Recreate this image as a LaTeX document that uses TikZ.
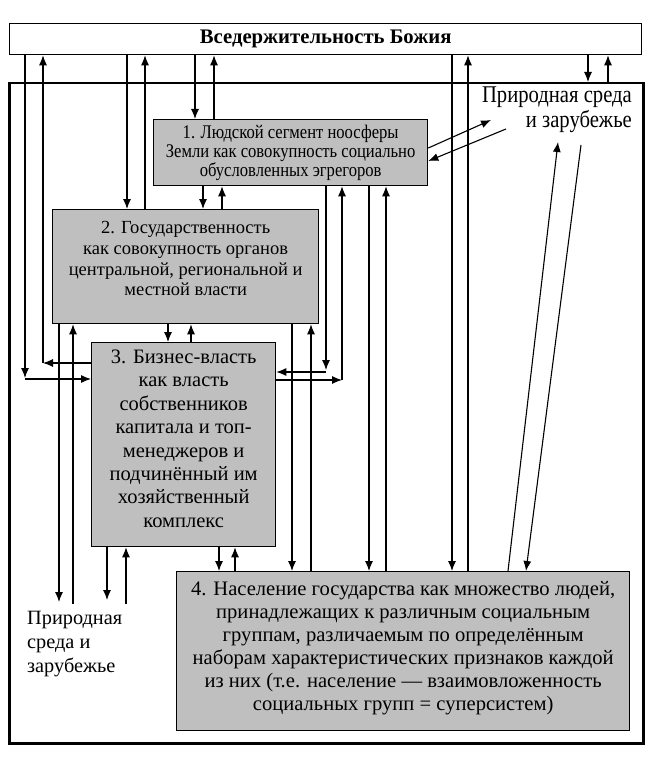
\documentclass[tikz,border=0pt]{standalone}
\usepackage{fontspec}
\setmainfont{Liberation Serif}
\newfontfamily\narrowfont[FakeStretch=0.86]{Liberation Serif}
\usetikzlibrary{arrows.meta,calc}

\begin{document}
\begin{tikzpicture}[x=1pt,y=-1pt,
    box/.style={draw,line width=1.3pt,fill=gray!50,inner sep=0pt,anchor=north west},
    txt/.style={align=center,inner sep=0pt},
    arr/.style={-{Latex[length=10pt,width=8pt]},line width=1.1pt}]
    \useasboundingbox (0,0) rectangle (648,757);
    \fill[white] (0,0) rectangle (648,757);
    \node[draw,line width=1.3pt,inner sep=0pt,anchor=north west,minimum width=632pt,minimum height=31pt] (top) at (9,23) {};
    \node[txt,font=\bfseries\fontsize{20.7}{22}\selectfont] at (top.center) {Вседержительность Божия};
    \node[draw,line width=2.5pt,inner sep=0pt,anchor=north west,minimum width=634pt,minimum height=660pt] (world) at (8,82) {};
    \node[box,minimum width=274pt,minimum height=66pt] (b1) at (153,119) {};
    \node[txt,font=\narrowfont\fontsize{19.3}{19}\selectfont] at (b1.center) {1. Людской сегмент ноосферы\\Земли как совокупность социально\\обусловленных эгрегоров};
    \node[box,minimum width=266pt,minimum height=114pt] (b2) at (52,209) {};
    \node[txt,font=\fontsize{18.5}{20.7}\selectfont] at ($(b2.center)+(0,-8)$) {2. Государственность\\как совокупность органов\\центральной, региональной и\\местной власти};
    \node[box,minimum width=184pt,minimum height=204pt] (b3) at (91,342) {};
    \node[txt,font=\fontsize{20.5}{23.4}\selectfont] at ($(b3.center)+(0,-6)$) {3. Бизнес-власть\\как власть\\собственников\\капитала и топ-\\менеджеров и\\подчинённый им\\хозяйственный\\комплекс};
    \node[box,minimum width=453pt,minimum height=159pt] (b4) at (176,571) {};
    \node[txt,font=\fontsize{20.6}{23}\selectfont] at ($(b4.center)+(0,-3)$) {4. Население государства как множество людей,\\принадлежащих к различным социальным\\группам, различаемым по определённым\\наборам характеристических признаков каждой\\из них (т.е. население — взаимовложенность\\социальных групп = суперсистем)};
    \node[align=right,inner sep=0pt,anchor=north east,font=\narrowfont\fontsize{24}{24.5}\selectfont] (nat1) at (632,87) {Природная среда\\и зарубежье};
    \node[align=left,inner sep=0pt,anchor=north west,font=\fontsize{20.3}{24}\selectfont] (nat2) at (27,611) {Природная\\среда и\\зарубежье};
    \draw[arr] (top.south -| 25,0) -- (25,378);
    \draw[arr] (25,379) -- (b3.west |- 0,379);
    \draw[arr] (b3.west |- 0,363) -- (43,363);
    \draw[arr] (43,363) -- (top.south -| 43,0);
    \draw[arr] (top.south -| 127,0) -- (b2.north -| 127,0);
    \draw[arr] (b2.north -| 145,0) -- (top.south -| 145,0);
    \draw[arr] (top.south -| 195,0) -- (b1.north -| 195,0);
    \draw[arr] (b1.north -| 214,0) -- (top.south -| 214,0);
    \draw[arr] (top.south -| 452,0) -- (b4.north -| 452,0);
    \draw[arr] (b4.north -| 468,0) -- (top.south -| 468,0);
    \draw[arr] (top.south -| 588,0) -- (world.north -| 588,0);
    \draw[arr] (world.north -| 608,0) -- (top.south -| 608,0);
    \draw[arr] (b1.south -| 203,0) -- (b2.north -| 203,0);
    \draw[arr] (b2.north -| 222,0) -- (b1.south -| 222,0);
    \draw[arr] (b1.south -| 326,0) -- (326,370);
    \draw[arr] (326,372) -- (b3.east |- 0,372);
    \draw[arr] (b3.east |- 0,380) -- (342,380);
    \draw[arr] (342,380) -- (b1.south -| 342,0);
    \draw[arr] (b1.south -| 369,0) -- (b4.north -| 369,0);
    \draw[arr] (b4.north -| 386,0) -- (b1.south -| 386,0);
    \draw[arr] (b1.east |- 0,148) -- (491,120);
    \draw[arr] (506,129) -- (b1.east |- 0,161);
    \draw[arr] (b2.south -| 168,0) -- (b3.north -| 168,0);
    \draw[arr] (b3.north -| 191,0) -- (b2.south -| 191,0);
    \draw[arr] (b2.south -| 59,0) -- (59,602);
    \draw[arr] (73,604) -- (b2.south -| 73,0);
    \draw[arr] (b2.south -| 292,0) -- (b4.north -| 292,0);
    \draw[arr] (b4.north -| 311,0) -- (b2.south -| 311,0);
    \draw[arr] (b3.south -| 107,0) -- (107,600);
    \draw[arr] (126,604) -- (b3.south -| 126,0);
    \draw[arr] (b3.south -| 219,0) -- (b4.north -| 219,0);
    \draw[arr] (b4.north -| 235,0) -- (b3.south -| 235,0);
    \draw[arr] (b4.north -| 508,0) -- (558,142);
    \draw[arr] (581,145) -- (b4.north -| 526,0);
\end{tikzpicture}
\end{document}
